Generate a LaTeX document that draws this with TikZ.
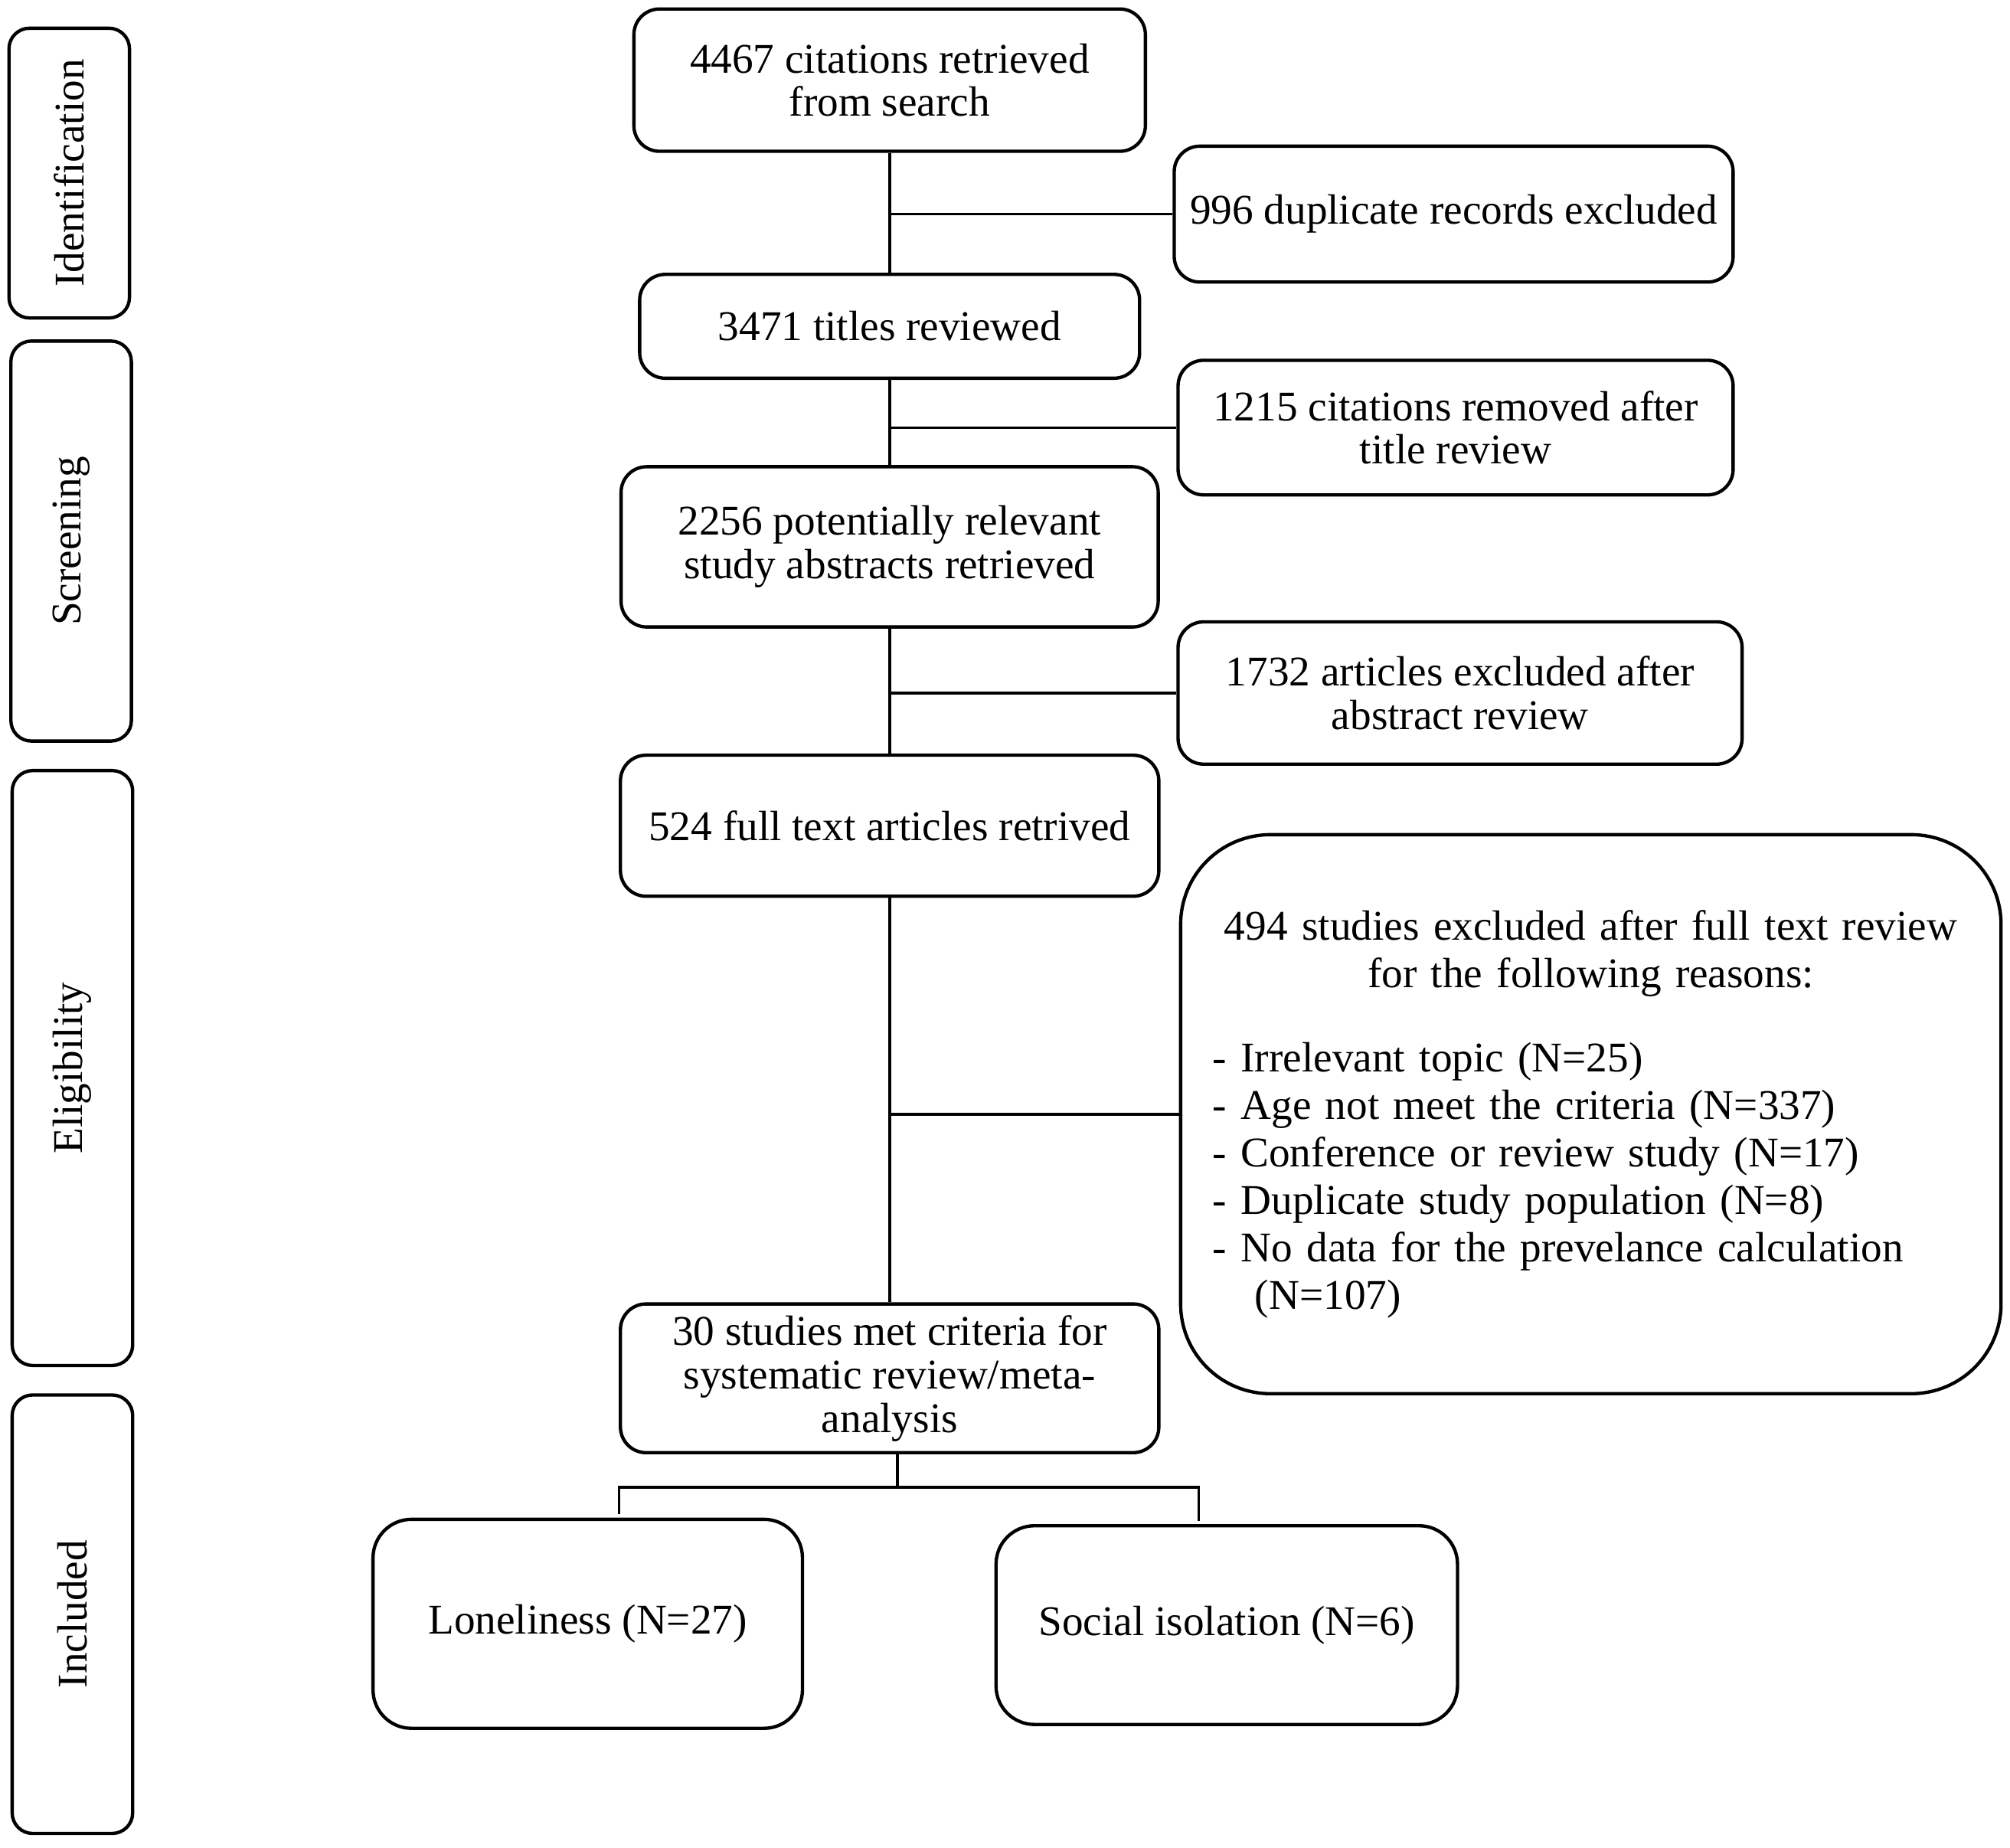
\documentclass[tikz,border=0pt]{standalone}
\usepackage{fontspec}
\setmainfont{Liberation Serif}
\tikzset{%
  link/.style = {line width=2pt},
  box/.style = {rectangle,draw,rounded corners=20pt,line width=2.6pt,
        align=center,font=\fontsize{33}{34}\selectfont},
  phase/.style = {box,rotate=90,rounded corners=16pt,minimum height=94pt},
  bigbox/.style = {box,rounded corners=70pt,text width=590pt,inner xsep=25pt,
        align=left,font=\fontsize{33}{37}\selectfont}
}

\begin{document}
\begin{tikzpicture}[
x=1pt,y=-1pt
]
\useasboundingbox (0,0) rectangle (1568,1441);
% phases
\node[phase,minimum width=226pt] (ident) at (54,135) {Identification};
\node[phase,minimum width=312pt] (screen) at (55.5,422) {Screening};
\node[phase,minimum width=464pt] (elig) at (56.5,833) {Eligibility};
\node[phase,minimum width=342pt] (incl) at (56.5,1259) {Included};
% main column
\node[box,minimum width=399pt,minimum height=111pt] (search) at (694,62.5) {4467 citations retrieved\\from search};
\node[box,minimum width=390pt,minimum height=81pt] (titles) at (694,254.5) {3471 titles reviewed};
\node[box,minimum width=419pt,minimum height=125pt] (abstracts) at (694,426.5) {2256 potentially relevant\\study abstracts retrieved};
\node[box,minimum width=420pt,minimum height=110pt] (fulltext) at (694,644) {524 full text articles retrived};
\node[box,minimum width=420pt,minimum height=116pt] (met) at (694,1075) {30 studies met criteria for\\systematic review/meta-\\analysis};
% exclusions
\node[box,minimum width=436pt,minimum height=106pt] (dup) at (1134,167) {996 duplicate records excluded};
\node[box,minimum width=433pt,minimum height=105pt] (titleexcl) at (1135.5,333.5) {1215 citations removed after\\title review};
\node[box,minimum width=440pt,minimum height=111pt] (absexcl) at (1139,540.5) {1732 articles excluded after\\abstract review};
\node[bigbox,minimum height=436pt] (fullexcl) at (1241,869) {%
\makebox[590pt][c]{494 studies excluded after full text review}\\
\makebox[590pt][c]{for the following reasons:}\\[29pt]
- Irrelevant topic (N=25)\\
- Age not meet the criteria (N=337)\\
- Conference or review study (N=17)\\
- Duplicate study population (N=8)\\
- No data for the prevelance calculation\\
\hspace*{1em}(N=107)};
% included
\node[box,rounded corners=30pt,minimum width=335pt,minimum height=163pt] (lonely) at (458.5,1266.5) {Loneliness (N=27)};
\node[box,rounded corners=30pt,minimum width=360pt,minimum height=155pt] (social) at (957,1267.5) {Social isolation (N=6)};
% connectors
\draw[link] (search) -- (titles);
\draw[link] (titles) -- (abstracts);
\draw[link] (abstracts) -- (fulltext);
\draw[link] (fulltext) -- (met);
\draw[link] (dup.west) -- (dup.west -| search.south);
\draw[link] (titleexcl.west) -- (titleexcl.west -| titles.south);
\draw[link] (absexcl.west) -- (absexcl.west -| abstracts.south);
\draw[link] (fullexcl.west) -- (fullexcl.west -| fulltext.south);
\coordinate (bar) at (700,1160);
\coordinate (ltop) at (483,1181);
\coordinate (rtop) at (935,1186);
\draw[link] (met.south -| bar) -- (bar);
\draw[link] (ltop) |- (bar) -| (rtop);
\end{tikzpicture}
\end{document}
